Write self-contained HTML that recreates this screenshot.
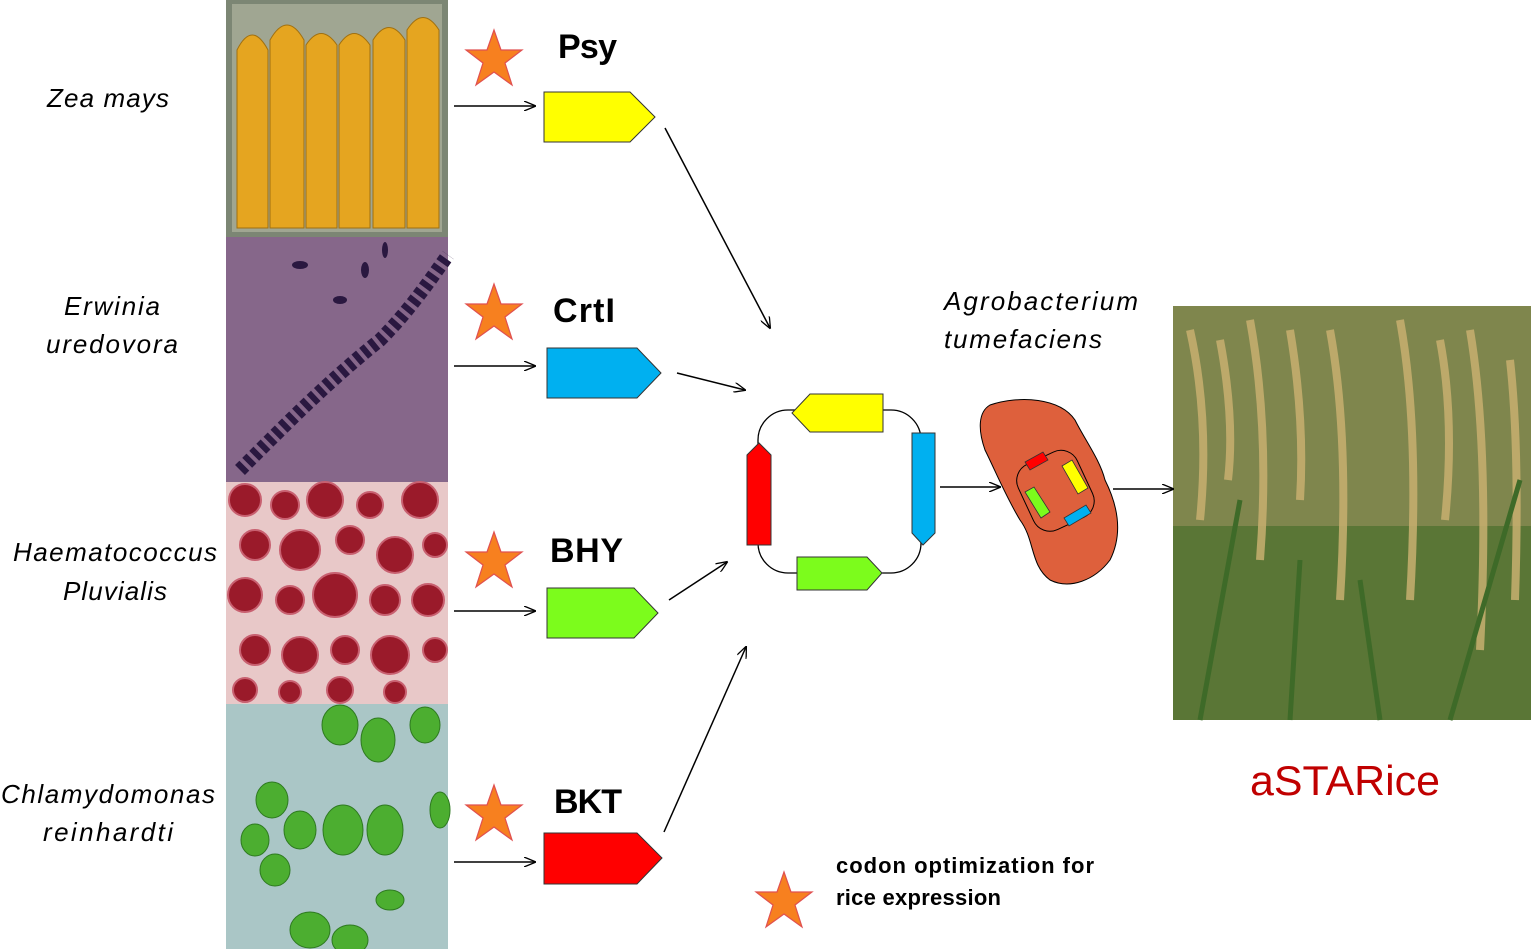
<!DOCTYPE html>
<html><head><meta charset="utf-8"><style>
html,body{margin:0;padding:0;background:#fff;}
svg{display:block}
text{font-family:"Liberation Sans",sans-serif}
</style></head><body>
<svg width="1531" height="949" viewBox="0 0 1531 949" xmlns="http://www.w3.org/2000/svg">
<defs>
<marker id="ah" markerWidth="12" markerHeight="10" refX="11" refY="5" orient="auto" markerUnits="userSpaceOnUse">
<path d="M0,0 L12,5 L0,10" fill="none" stroke="#000" stroke-width="1.3"/></marker>
<symbol id="star" viewBox="-30 -32 60 62">
<polygon points="0,-30 7,-10 28,-10 11,3 18,25 0,12 -18,25 -11,3 -28,-10 -7,-10" fill="#f7801f" stroke="#e05050" stroke-width="1.2"/>
</symbol>
</defs>

<!-- Corn photo -->
<rect x="226" y="0" width="222" height="237" fill="#7c8674"/>
<rect x="232" y="4" width="210" height="228" fill="#a0a692"/>
<g fill="#e5a520" stroke="#a07010" stroke-width="1">
<path d="M237,228 L237,50 Q252,20 268,50 L268,228 Z"/>
<path d="M270,228 L270,40 Q287,10 304,40 L304,228 Z"/>
<path d="M306,228 L306,45 Q321,22 337,45 L337,228 Z"/>
<path d="M339,228 L339,45 Q354,22 370,45 L370,228 Z"/>
<path d="M373,228 L373,40 Q389,15 405,40 L405,228 Z"/>
<path d="M407,228 L407,30 Q423,5 439,30 L439,228 Z"/>
</g>

<!-- Erwinia -->
<rect x="226" y="237" width="222" height="245" fill="#86678a"/>
<path d="M240,470 C290,420 330,380 380,340 C410,310 430,280 448,255" stroke="#2a1840" stroke-width="14" fill="none" stroke-dasharray="6 4"/>
<g fill="#2a1840"><ellipse cx="300" cy="265" rx="8" ry="4"/><ellipse cx="365" cy="270" rx="4" ry="8"/><ellipse cx="340" cy="300" rx="7" ry="4"/><ellipse cx="385" cy="250" rx="3" ry="8"/></g>

<!-- Haematococcus -->
<rect x="226" y="482" width="222" height="222" fill="#e8c8c8"/>
<g fill="#9a1a2a" stroke="#c86070" stroke-width="2">
<circle cx="245" cy="500" r="16"/><circle cx="285" cy="505" r="14"/><circle cx="325" cy="500" r="18"/><circle cx="370" cy="505" r="13"/><circle cx="420" cy="500" r="18"/>
<circle cx="255" cy="545" r="15"/><circle cx="300" cy="550" r="20"/><circle cx="350" cy="540" r="14"/><circle cx="395" cy="555" r="18"/><circle cx="435" cy="545" r="12"/>
<circle cx="245" cy="595" r="17"/><circle cx="290" cy="600" r="14"/><circle cx="335" cy="595" r="22"/><circle cx="385" cy="600" r="15"/><circle cx="428" cy="600" r="16"/>
<circle cx="255" cy="650" r="15"/><circle cx="300" cy="655" r="18"/><circle cx="345" cy="650" r="14"/><circle cx="390" cy="655" r="19"/><circle cx="435" cy="650" r="12"/>
<circle cx="245" cy="690" r="12"/><circle cx="290" cy="692" r="11"/><circle cx="340" cy="690" r="13"/><circle cx="395" cy="692" r="11"/>
</g>

<!-- Chlamydomonas -->
<rect x="226" y="704" width="222" height="245" fill="#aac6c6"/>
<g fill="#4cae30" stroke="#2e7a20" stroke-width="1">
<ellipse cx="340" cy="725" rx="18" ry="20"/><ellipse cx="378" cy="740" rx="17" ry="22"/><ellipse cx="425" cy="725" rx="15" ry="18"/>
<ellipse cx="272" cy="800" rx="16" ry="18"/><ellipse cx="300" cy="830" rx="16" ry="19"/><ellipse cx="343" cy="830" rx="20" ry="25"/><ellipse cx="385" cy="830" rx="18" ry="25"/>
<ellipse cx="255" cy="840" rx="14" ry="16"/><ellipse cx="275" cy="870" rx="15" ry="16"/><ellipse cx="440" cy="810" rx="10" ry="18"/>
<ellipse cx="310" cy="930" rx="20" ry="18"/><ellipse cx="350" cy="940" rx="18" ry="15"/><ellipse cx="390" cy="900" rx="14" ry="10"/>
</g>

<!-- Rice photo -->
<rect x="1173" y="306" width="358" height="414" fill="#5a7636"/>
<rect x="1173" y="306" width="358" height="220" fill="#8c8c56" opacity="0.75"/>
<g stroke="#c8b070" stroke-width="8" fill="none" opacity="0.85">
<path d="M1190,330 Q1210,420 1200,520"/><path d="M1250,320 Q1270,430 1260,560"/><path d="M1330,330 Q1350,440 1340,600"/>
<path d="M1400,320 Q1420,430 1410,600"/><path d="M1470,330 Q1490,450 1480,650"/><path d="M1510,360 Q1520,450 1515,600"/>
<path d="M1220,340 Q1235,420 1228,480"/><path d="M1290,330 Q1305,420 1300,500"/><path d="M1440,340 Q1455,420 1445,520"/>
</g>
<g stroke="#3e6a28" stroke-width="5" fill="none">
<path d="M1200,720 L1240,500"/><path d="M1290,720 L1300,560"/><path d="M1380,720 L1360,580"/><path d="M1450,720 L1520,480"/>
</g>

<!-- Species labels -->
<g font-style="italic" font-size="26" lengthAdjust="spacingAndGlyphs">
<text x="47" y="107" textLength="122">Zea mays</text>
<text x="64" y="315" textLength="96">Erwinia</text><text x="46" y="353" textLength="132">uredovora</text>
<text x="13" y="561" textLength="204">Haematococcus</text><text x="63" y="600" textLength="104">Pluvialis</text>
<text x="1" y="803" textLength="214">Chlamydomonas</text><text x="43" y="841" textLength="130">reinhardti</text>
<text x="944" y="310" textLength="194">Agrobacterium</text>
<text x="944" y="348" textLength="158">tumefaciens</text>
</g>

<!-- Stars -->
<use href="#star" x="464" y="28" width="60" height="62"/>
<use href="#star" x="464" y="282" width="60" height="62"/>
<use href="#star" x="464" y="530" width="60" height="62"/>
<use href="#star" x="464" y="783" width="60" height="62"/>
<use href="#star" x="754" y="870" width="60" height="62"/>

<!-- Arrows -->
<g stroke="#000" stroke-width="1.5" marker-end="url(#ah)">
<line x1="454" y1="106" x2="535" y2="106"/>
<line x1="454" y1="366" x2="535" y2="366"/>
<line x1="454" y1="611" x2="535" y2="611"/>
<line x1="454" y1="862" x2="535" y2="862"/>
<line x1="665" y1="128" x2="770" y2="328"/>
<line x1="677" y1="373" x2="745" y2="390"/>
<line x1="669" y1="600" x2="727" y2="562"/>
<line x1="664" y1="832" x2="746" y2="647"/>
<line x1="940" y1="487" x2="1000" y2="487"/>
<line x1="1113" y1="489" x2="1173" y2="489"/>
</g>

<!-- Gene arrows -->
<g stroke="#333" stroke-width="1">
<polygon points="544,92 630,92 655,117 630,142 544,142" fill="#ffff00"/>
<polygon points="547,348 637,348 661,373 637,398 547,398" fill="#00b0f0"/>
<polygon points="547,588 634,588 658,613 634,638 547,638" fill="#7cfc1c"/>
<polygon points="544,833 637,833 662,858 637,884 544,884" fill="#ff0000"/>
</g>
<g font-weight="bold" font-size="34" lengthAdjust="spacingAndGlyphs">
<text x="558" y="58" textLength="59">Psy</text>
<text x="553" y="322" textLength="62">CrtI</text>
<text x="550" y="562" textLength="73">BHY</text>
<text x="554" y="813" textLength="68">BKT</text>
</g>

<!-- Plasmid -->
<rect x="758" y="410" width="163" height="163" rx="30" fill="none" stroke="#000" stroke-width="1.3"/>
<g stroke="#333" stroke-width="1">
<polygon points="883,394 883,432 810,432 792,413 810,394" fill="#ffff00"/>
<polygon points="912,433 935,433 935,533 923,545 912,533" fill="#00b0f0"/>
<polygon points="797,557 867,557 882,573 867,590 797,590" fill="#7cfc1c"/>
<polygon points="747,455 759,443 771,455 771,545 747,545" fill="#ff0000"/>
</g>

<!-- Agrobacterium cell -->
<path d="M990,405 C1020,395 1060,398 1075,420 C1085,440 1100,460 1105,480 C1115,500 1125,530 1110,560 C1095,580 1070,590 1050,580 C1030,565 1035,540 1020,520 C1005,495 995,470 985,450 C978,430 978,412 990,405 Z" fill="#de603c" stroke="#000" stroke-width="1"/>
<rect x="1023" y="455" width="65" height="72" rx="18" fill="none" stroke="#000" stroke-width="1" transform="rotate(-25 1055 491)"/>
<g stroke="#333" stroke-width="0.8">
<polygon points="1025,462 1043,452 1048,460 1030,470" fill="#ff0000"/>
<polygon points="1062,466 1072,460 1088,488 1078,494" fill="#ffff00"/>
<polygon points="1025,492 1034,487 1050,512 1041,518" fill="#7cfc1c"/>
<polygon points="1064,518 1086,505 1091,513 1069,526" fill="#00b0f0"/>
</g>

<text x="1250" y="795" font-size="42" fill="#c00000" textLength="190" lengthAdjust="spacingAndGlyphs">aSTARice</text>

<g font-weight="bold" font-size="22" lengthAdjust="spacingAndGlyphs">
<text x="836" y="873" textLength="258">codon  optimization for</text>
<text x="836" y="905" textLength="165">rice expression</text>
</g>
</svg>
</body></html>
